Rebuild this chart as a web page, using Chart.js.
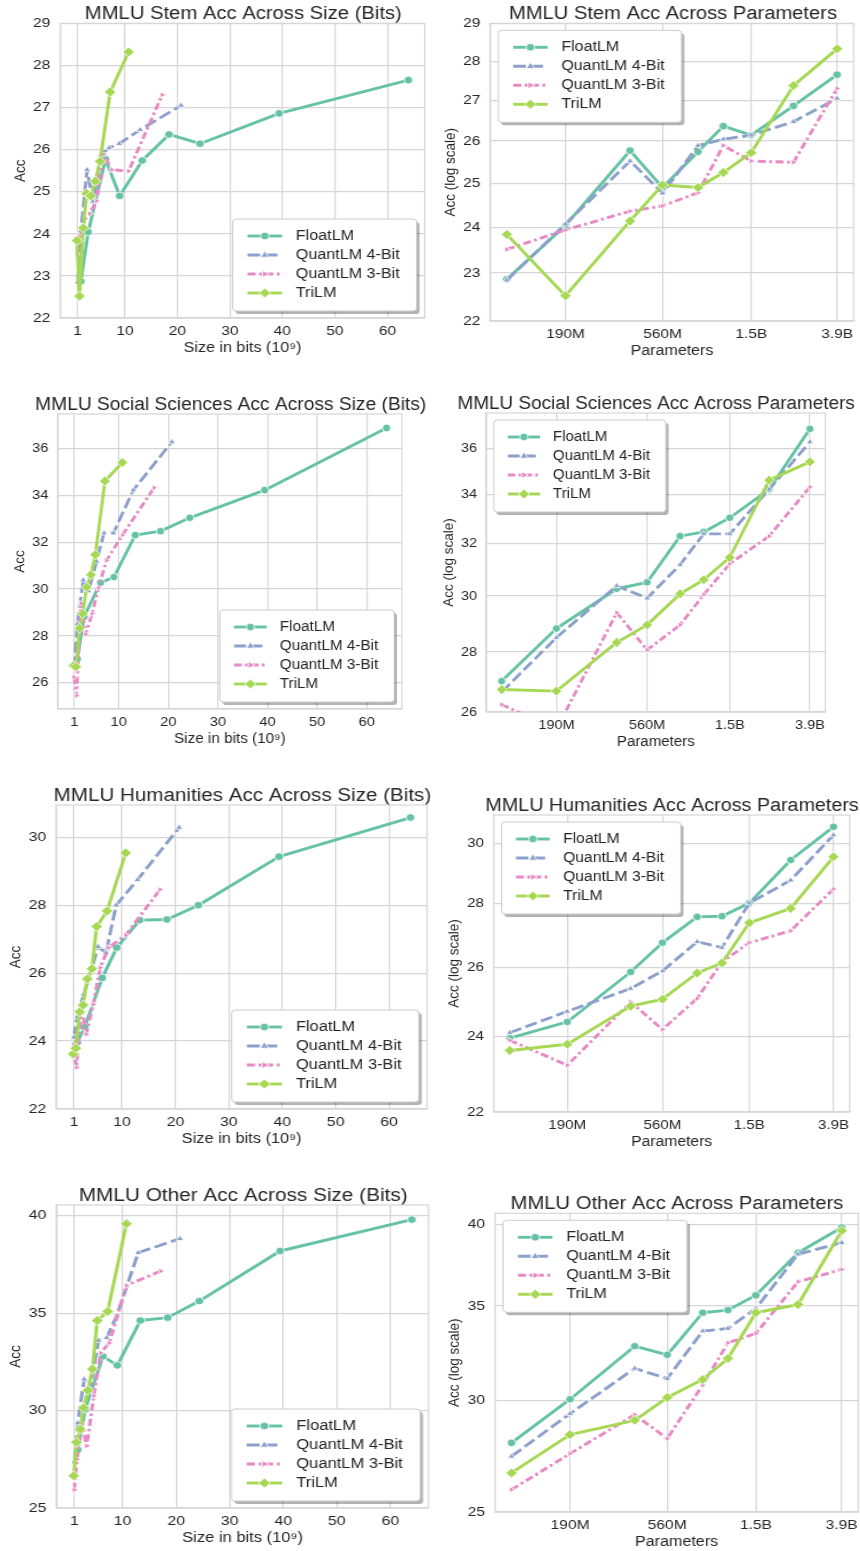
<!DOCTYPE html>
<html lang="en">
<head>
<meta charset="UTF-8" />
<title>MMLU accuracy across size and parameters</title>
<script src="https://cdn.jsdelivr.net/npm/chart.js"></script>
<style>
  html, body { margin: 0; padding: 0; background: #fff; overflow: hidden; }
  #page { position: relative; width: 860px; height: 1551px; overflow: hidden; }
  #page canvas { position: absolute; transform-origin: 0 0; }
</style>
</head>
<body>
<div id="page"></div>
<script>
// model sizes (millions of parameters) and model size in bits (x 10^9)
const params = [99, 190, 390, 560, 830, 1100, 1500, 2400, 3900];
const sizeFloat = [1.6, 3.0, 6.3, 9.0, 13.3, 18.4, 24.3, 39.4, 64.0];
const sizeQuant4 = [1.0, 1.6, 2.8, 3.9, 5.5, 7.0, 8.9, 12.9, 20.7];
const sizeQuant3 = [0.95, 1.45, 2.4, 3.3, 4.6, 5.9, 7.5, 10.7, 17.1];
const sizeTri = [0.85, 1.35, 2.05, 2.7, 3.5, 4.35, 5.25, 7.2, 10.7];

// accuracies
const stemFloat = [22.87, 24.04, 25.77, 24.9, 25.74, 26.36, 26.14, 26.86, 27.65];
const stemQuant4 = [22.85, 24.07, 25.52, 24.77, 25.89, 26.04, 26.14, 26.47, 27.05];
const stemQuant3 = [23.51, 23.94, 24.36, 24.48, 24.78, 25.89, 25.52, 25.49, 27.3];
const stemTri = [23.84, 22.52, 24.14, 24.96, 24.9, 25.25, 25.72, 27.37, 28.32];

const socialFloat = [27.01, 28.82, 30.27, 30.51, 32.3, 32.47, 33.04, 34.22, 36.87];
const socialQuant4 = [26.65, 28.5, 30.38, 29.92, 31.18, 32.39, 32.39, 34.22, 36.28];
const socialQuant3 = [26.24, 25.45, 29.39, 28.07, 28.95, 30.05, 31.22, 32.3, 34.32];
const socialTri = [26.73, 26.68, 28.33, 28.95, 30.08, 30.61, 31.46, 34.61, 35.4];

const humFloat = [23.96, 24.41, 25.86, 26.75, 27.56, 27.58, 28.0, 29.43, 30.58];
const humQuant4 = [24.11, 24.71, 25.37, 25.89, 26.78, 26.6, 28.0, 28.75, 30.29];
const humQuant3 = [23.9, 23.22, 24.98, 24.2, 25.08, 26.16, 26.75, 27.12, 28.46];
const humTri = [23.62, 23.79, 24.86, 25.06, 25.83, 26.13, 27.37, 27.83, 29.54];

const otherFloat = [27.99, 30.06, 32.78, 32.32, 34.62, 34.77, 35.62, 38.19, 39.8];
const otherQuant4 = [27.38, 29.36, 31.61, 31.09, 33.6, 33.74, 34.86, 38.1, 38.82];
const otherQuant3 = [25.93, 27.5, 29.31, 28.19, 30.76, 32.96, 33.47, 36.42, 37.16];
const otherTri = [26.65, 28.37, 29.04, 30.14, 31.04, 32.13, 34.62, 35.09, 39.59];

// tick labels
const sizeTicks = [1, 10, 20, 30, 40, 50, 60];
const paramTicks = [190, 560, 1500, 3900];
const paramTickLabels = ["190M", "560M", "1.5B", "3.9B"];
const stemTicks = [22, 23, 24, 25, 26, 27, 28, 29];
const socialTicks = [26, 28, 30, 32, 34, 36];
const humTicks = [22, 24, 26, 28, 30];
const otherTicks = [25, 30, 35, 40];

const seriesNames = ["FloatLM", "QuantLM 4-Bit", "QuantLM 3-Bit", "TriLM"];
const seriesSizes = [sizeFloat, sizeQuant4, sizeQuant3, sizeTri];

// --- styling / layout ---
const FONT = "'Liberation Sans', Arial, sans-serif";
const TEXT = "#262626";
const GRID = "#d6d6d6";
const LINE_W = 2.9;
const styles = [
  { color: "#66c2a5", dash: [], point: "circle", radius: 3.8, rot: 0 },
  { color: "#8da0cb", dash: [11, 4], point: "triangle", radius: 3.6, rot: 0 },
  { color: "#e78ac3", dash: [7, 3, 2.5, 3], point: "triangle", radius: 3.4, rot: 90 },
  { color: "#a6d854", dash: [], point: "rectRot", radius: 5, rot: 0 },
];

// each panel was squeezed sideways a little differently in the source picture
const panels = [
  { title: "MMLU Stem Acc Across Size (Bits)", kind: "size", vals: [stemFloat, stemQuant4, stemQuant3, stemTri],
    frame: [60.7, 23.3, 425, 317.7], y: [22, 29], ticks: stemTicks, legend: "lr", sx: 1.15 },
  { title: "MMLU Stem Acc Across Parameters", kind: "params", vals: [stemFloat, stemQuant4, stemQuant3, stemTri],
    frame: [490, 23.3, 853.3, 321], y: [22, 29], ticks: stemTicks, legend: "ul", sx: 1.145 },
  { title: "MMLU Social Sciences Acc Across Size (Bits)", kind: "size", vals: [socialFloat, socialQuant4, socialQuant3, socialTri],
    frame: [57.7, 414, 401.7, 708.3], y: [24.88, 37.47], ticks: socialTicks, legend: "lr", sx: 1.09 },
  { title: "MMLU Social Sciences Acc Across Parameters", kind: "params", vals: [socialFloat, socialQuant4, socialQuant3, socialTri],
    frame: [486, 413, 825, 711.7], y: [26, 37.6], ticks: socialTicks, legend: "ul", sx: 1.075 },
  { title: "MMLU Humanities Acc Across Size (Bits)", kind: "size", vals: [humFloat, humQuant4, humQuant3, humTri],
    frame: [56, 805, 426.7, 1108.3], y: [22, 30.95], ticks: humTicks, legend: "lr", sx: 1.17 },
  { title: "MMLU Humanities Acc Across Parameters", kind: "params", vals: [humFloat, humQuant4, humQuant3, humTri],
    frame: [493.3, 815, 849.3, 1111.7], y: [22, 31.0], ticks: humTicks, legend: "ul", sx: 1.12 },
  { title: "MMLU Other Acc Across Size (Bits)", kind: "size", vals: [otherFloat, otherQuant4, otherQuant3, otherTri],
    frame: [56.7, 1205, 428.3, 1507.3], y: [25, 40.55], ticks: otherTicks, legend: "lr", sx: 1.18 },
  { title: "MMLU Other Acc Across Parameters", kind: "params", vals: [otherFloat, otherQuant4, otherQuant3, otherTri],
    frame: [495, 1213.3, 858.3, 1511.7], y: [25, 40.73], ticks: otherTicks, legend: "ul", sx: 1.15 },
];

function drawMarker(ctx, st, x, y) {
  ctx.save();
  ctx.translate(x, y);
  ctx.rotate((st.rot * Math.PI) / 180);
  ctx.beginPath();
  const r = st.radius;
  if (st.point === "circle") {
    ctx.arc(0, 0, r, 0, Math.PI * 2);
  } else if (st.point === "triangle") {
    ctx.moveTo(0, -r * 1.15);
    ctx.lineTo(r, r * 0.6);
    ctx.lineTo(-r, r * 0.6);
    ctx.closePath();
  } else {
    ctx.moveTo(0, -r);
    ctx.lineTo(r, 0);
    ctx.lineTo(0, r);
    ctx.lineTo(-r, 0);
    ctx.closePath();
  }
  ctx.fillStyle = st.color;
  ctx.fill();
  ctx.strokeStyle = "#fff";
  ctx.lineWidth = 0.8;
  ctx.stroke();
  ctx.restore();
}

// gray frame round the plot area
const frameBox = {
  id: "frameBox",
  beforeDatasetsDraw(chart) {
    const { ctx, chartArea: a } = chart;
    ctx.save();
    ctx.strokeStyle = GRID;
    ctx.lineWidth = 1.2;
    ctx.strokeRect(a.left, a.top, a.right - a.left, a.bottom - a.top);
    ctx.restore();
  },
};

// matplotlib style legend box with shadow
const boxLegend = {
  id: "boxLegend",
  afterDraw(chart, args, opts) {
    const { ctx, chartArea: a } = chart;
    const w = 160, h = 92, pad = 7;
    const x0 = opts.corner === "lr" ? a.right - pad - w : a.left + pad;
    const y0 = opts.corner === "lr" ? a.bottom - pad - h : a.top + pad;
    ctx.save();
    ctx.fillStyle = "rgba(0,0,0,0.3)";
    ctx.beginPath();
    ctx.roundRect(x0 + 2.5, y0 + 3, w, h, 3);
    ctx.fill();
    ctx.fillStyle = "#fff";
    ctx.strokeStyle = "#cccccc";
    ctx.lineWidth = 1;
    ctx.beginPath();
    ctx.roundRect(x0, y0, w, h, 3);
    ctx.fill();
    ctx.stroke();
    seriesNames.forEach((name, i) => {
      const st = styles[i];
      const y = y0 + 17 + 19 * i;
      ctx.beginPath();
      ctx.setLineDash(st.dash);
      ctx.strokeStyle = st.color;
      ctx.lineWidth = LINE_W;
      ctx.moveTo(x0 + 13, y);
      ctx.lineTo(x0 + 43, y);
      ctx.stroke();
      ctx.setLineDash([]);
      drawMarker(ctx, st, x0 + 28, y);
      ctx.fillStyle = TEXT;
      ctx.font = "14px " + FONT;
      ctx.textBaseline = "middle";
      ctx.textAlign = "left";
      ctx.fillText(name, x0 + 55, y);
    });
    ctx.restore();
  },
};

const page = document.getElementById("page");
const yW = 43, titleH = 17.6, xH = 39;

panels.forEach((p) => {
  const S = p.sx;
  const L = p.frame[0] / S, R = p.frame[2] / S, T = p.frame[1], B = p.frame[3];
  const left = Math.floor(L - yW), top = Math.floor(T - titleH);
  const padL = L - yW - left, padT = T - titleH - top;
  // canvas symmetric round the plot area so the title is centred over it
  const w = Math.ceil(L + R - 2 * left), h = Math.ceil(B - top + xH);
  const rightW = left + w - R;

  const canvas = document.createElement("canvas");
  canvas.width = w;
  canvas.height = h;
  canvas.style.left = left * S + "px";
  canvas.style.top = top + "px";
  canvas.style.width = w + "px";
  canvas.style.height = h + "px";
  canvas.style.transform = "scaleX(" + S + ")";
  page.appendChild(canvas);

  const isSize = p.kind === "size";
  const datasets = seriesNames.map((name, i) => {
    const xs = isSize ? seriesSizes[i] : params;
    const st = styles[i];
    return {
      label: name,
      data: xs.map((x, j) => ({ x: x, y: p.vals[i][j] })),
      borderColor: st.color,
      backgroundColor: st.color,
      borderWidth: LINE_W,
      borderDash: st.dash,
      borderJoinStyle: "round",
      pointStyle: st.point,
      pointRotation: st.rot,
      pointRadius: st.radius,
      pointBackgroundColor: st.color,
      pointBorderColor: "#fff",
      pointBorderWidth: 0.8,
      order: 3 - i,
    };
  });

  const tickFont = { family: FONT, size: 13.5 };
  const xScale = {
    type: isSize ? "linear" : "logarithmic",
    min: isSize ? -2.3 : 82.4,
    max: isSize ? 67.1 : 4688,
    afterBuildTicks: (s) => {
      s.ticks = (isSize ? sizeTicks : paramTicks).map((v) => ({ value: v }));
    },
    afterFit: (s) => { s.height = xH; },
    ticks: {
      autoSkip: false, maxRotation: 0, padding: 5, font: tickFont, color: TEXT,
      callback: (v) => (isSize ? String(v) : paramTickLabels[paramTicks.indexOf(v)]),
    },
    grid: { color: GRID, lineWidth: 1.2, drawTicks: false },
    border: { color: GRID, width: 1.2 },
    title: {
      display: true, text: isSize ? "Size in bits (10⁹)" : "Parameters",
      font: { family: FONT, size: 14, lineHeight: 1.2 }, color: TEXT, padding: 0,
    },
  };
  const yScale = {
    type: isSize ? "linear" : "logarithmic",
    min: p.y[0],
    max: p.y[1],
    afterBuildTicks: (s) => {
      s.ticks = p.ticks.map((v) => ({ value: v }));
    },
    afterFit: (s) => { s.width = yW; },
    ticks: { padding: 8.7, font: tickFont, color: TEXT, callback: (v) => String(v) },
    grid: { color: GRID, lineWidth: 1.2, drawTicks: false },
    border: { color: GRID, width: 1.2 },
    title: {
      display: true, text: isSize ? "Acc" : "Acc (log scale)",
      font: { family: FONT, size: 13.5, lineHeight: 1.2 }, color: TEXT, padding: 0,
    },
  };
  // empty right-hand spacer axis, keeps the plot area in place
  const spacer = {
    type: "linear", position: "right", display: true,
    afterFit: (s) => { s.width = rightW; },
    ticks: { display: false },
    grid: { display: false, drawTicks: false },
    border: { display: false },
  };

  new Chart(canvas, {
    type: "line",
    data: { datasets },
    options: {
      responsive: false,
      devicePixelRatio: 1,
      animation: false,
      layout: { padding: { left: padL, top: padT, right: 0, bottom: 0 } },
      scales: { x: xScale, y: yScale, spacer: spacer },
      plugins: {
        legend: { display: false },
        tooltip: { enabled: false },
        title: {
          display: true, text: p.title, fullSize: true, color: TEXT,
          font: { family: FONT, size: 17.6, weight: "normal", lineHeight: 1 }, padding: 0,
        },
        boxLegend: { corner: p.legend },
      },
    },
    plugins: [frameBox, boxLegend],
  });
});
</script>
</body>
</html>
